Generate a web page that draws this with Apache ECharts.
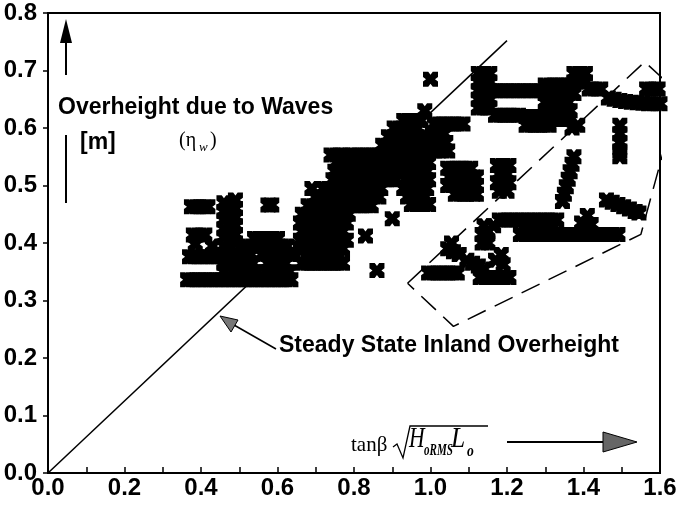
<!DOCTYPE html>
<html>
<head>
<meta charset="utf-8">
<script src="https://cdn.jsdelivr.net/npm/echarts@6/dist/echarts.min.js"></script>
<style>
  html, body { margin: 0; background: #fff; }
  #chart { width: 678px; height: 510px; }
</style>
</head>
<body>
<div id="chart"></div>
<script>
// axis ranges / ticks
const xTicks = [0, 0.2, 0.4, 0.6, 0.8, 1.0, 1.2, 1.4, 1.6];
const yTicks = [0, 0.1, 0.2, 0.3, 0.4, 0.5, 0.6, 0.7, 0.8];

// steady state inland overheight line
const steadyX = [0, 1.2];
const steadyY = [0, 0.752];

// dashed outline around the right-hand cloud
const zoneX = [0.94, 1.56, 1.65, 1.55, 1.06, 0.94];
const zoneY = [0.33, 0.715, 0.66, 0.415, 0.255, 0.33];

const groupLeft = [
  [0.375,0.463],[0.39,0.463],[0.405,0.463],[0.418,0.463],
  [0.46,0.47],[0.46,0.455],[0.46,0.44],[0.46,0.425],[0.46,0.41],[0.46,0.395],[0.46,0.38],[0.46,0.365],[0.46,0.35],
  [0.49,0.475],[0.49,0.46],[0.49,0.445],[0.49,0.43],[0.49,0.415],[0.49,0.4],[0.49,0.385],[0.49,0.37],[0.49,0.355],
  [0.575,0.466],[0.585,0.466],
  [0.38,0.414],[0.395,0.414],[0.41,0.414],[0.385,0.398],[0.43,0.395],
  [0.37,0.376],[0.385,0.376],[0.4,0.376],[0.415,0.376],[0.43,0.376],[0.445,0.376],[0.475,0.376],[0.505,0.376],
  [0.365,0.336],[0.38,0.336],[0.395,0.336],[0.41,0.336],[0.425,0.336],[0.44,0.336],[0.455,0.336],[0.47,0.336],
  [0.485,0.336],[0.5,0.336],[0.515,0.336],[0.53,0.336],[0.545,0.336],[0.56,0.336],[0.575,0.336],[0.59,0.336],
  [0.605,0.336],[0.62,0.336],[0.635,0.336],
  [0.515,0.35],[0.53,0.35],[0.545,0.35],[0.57,0.35],[0.585,0.35],[0.6,0.35],[0.615,0.35],[0.63,0.35],
  [0.52,0.365],[0.535,0.365],[0.575,0.365],[0.59,0.365],[0.605,0.365],[0.62,0.365],
  [0.515,0.38],[0.53,0.38],[0.56,0.38],[0.575,0.38],[0.59,0.38],[0.605,0.38],[0.62,0.38],[0.635,0.38],
  [0.52,0.395],[0.535,0.395],[0.55,0.395],[0.565,0.395],[0.58,0.395],[0.595,0.395],[0.61,0.395],[0.625,0.395],
  [0.54,0.408],[0.555,0.408],[0.57,0.408],[0.585,0.408],[0.6,0.408]
];

const groupMiddle = [
  [0.665,0.365],[0.68,0.365],[0.695,0.365],[0.71,0.365],[0.725,0.365],[0.74,0.365],[0.755,0.365],[0.77,0.365],
  [0.665,0.39],[0.68,0.39],[0.695,0.39],[0.71,0.39],[0.725,0.39],[0.74,0.39],[0.755,0.39],[0.77,0.39],
  [0.66,0.405],[0.675,0.405],[0.69,0.405],[0.705,0.405],[0.72,0.405],[0.735,0.405],[0.75,0.405],[0.765,0.405],[0.78,0.405],
  [0.665,0.42],[0.68,0.42],[0.695,0.42],[0.71,0.42],[0.725,0.42],[0.74,0.42],[0.755,0.42],[0.77,0.42],
  [0.66,0.435],[0.675,0.435],[0.69,0.435],[0.705,0.435],[0.72,0.435],[0.735,0.435],[0.75,0.435],[0.765,0.435],[0.78,0.435],
  [0.665,0.45],[0.68,0.45],[0.695,0.45],[0.71,0.45],[0.725,0.45],[0.74,0.45],[0.755,0.45],[0.77,0.45],[0.785,0.45],
  [0.68,0.465],[0.695,0.465],[0.71,0.465],[0.725,0.465],[0.74,0.465],[0.755,0.465],[0.77,0.465],[0.785,0.465],
  [0.8,0.465],[0.815,0.465],[0.83,0.465],[0.845,0.465],
  [0.7,0.48],[0.715,0.48],[0.73,0.48],[0.745,0.48],[0.76,0.48],[0.775,0.48],[0.79,0.48],[0.805,0.48],
  [0.82,0.48],[0.835,0.48],[0.85,0.48],[0.865,0.48],
  [0.69,0.495],[0.72,0.495],[0.735,0.495],[0.75,0.495],[0.765,0.495],[0.78,0.495],[0.795,0.495],[0.81,0.495],
  [0.825,0.495],[0.84,0.495],[0.855,0.495],[0.87,0.495],
  [0.745,0.51],[0.76,0.51],[0.775,0.51],[0.79,0.51],[0.805,0.51],[0.82,0.51],[0.835,0.51],[0.85,0.51],
  [0.865,0.51],[0.88,0.51],[0.895,0.51],[0.91,0.51],
  [0.75,0.525],[0.765,0.525],[0.78,0.525],[0.795,0.525],[0.81,0.525],[0.825,0.525],[0.84,0.525],[0.855,0.525],
  [0.87,0.525],[0.885,0.525],[0.9,0.525],[0.915,0.525],
  [0.755,0.54],[0.77,0.54],[0.785,0.54],[0.8,0.54],[0.815,0.54],[0.83,0.54],[0.845,0.54],[0.86,0.54],
  [0.875,0.54],[0.89,0.54],[0.905,0.54],[0.92,0.54],
  [0.74,0.553],[0.755,0.553],[0.77,0.553],[0.79,0.553],[0.805,0.553],[0.82,0.553],[0.835,0.553],[0.85,0.553],
  [0.865,0.553],[0.88,0.553],[0.895,0.553],[0.91,0.553],
  [0.875,0.57],[0.89,0.57],[0.905,0.57],[0.92,0.57],[0.935,0.57],[0.95,0.57],[0.965,0.57],[0.98,0.57],
  [0.89,0.585],[0.905,0.585],[0.92,0.585],[0.935,0.585],[0.95,0.585],[0.965,0.585],[0.98,0.585],
  [0.905,0.6],[0.92,0.6],[0.935,0.6],[0.95,0.6],[0.965,0.6],
  [0.93,0.613],[0.945,0.613],[0.96,0.613],[0.975,0.613],
  [0.93,0.555],[0.945,0.555],[0.96,0.555],[0.975,0.555],[0.99,0.555],
  [0.935,0.54],[0.95,0.54],[0.965,0.54],[0.98,0.54],[0.995,0.54],
  [0.93,0.525],[0.945,0.525],[0.96,0.525],[0.975,0.525],[0.99,0.525],
  [0.935,0.51],[0.95,0.51],[0.965,0.51],[0.98,0.51],[0.995,0.51],
  [0.93,0.495],[0.945,0.495],[0.96,0.495],[0.975,0.495],[0.99,0.495],
  [0.94,0.48],[0.955,0.48],[0.97,0.48],[0.985,0.48],
  [0.95,0.467],[0.965,0.467],[0.98,0.467],[0.995,0.467],
  [0.83,0.412],[0.9,0.442],[0.86,0.352]
];

const groupUpper = [
  [0.985,0.63],[1.0,0.685],
  [1.01,0.607],[1.025,0.607],[1.04,0.607],[1.055,0.607],[1.07,0.607],[1.085,0.607],
  [1.005,0.59],[1.02,0.59],[1.035,0.59],[1.005,0.575],[1.02,0.575],[1.04,0.575],[1.01,0.56],[1.03,0.56],[1.045,0.56],
  [1.045,0.53],[1.06,0.53],[1.075,0.53],[1.09,0.53],[1.105,0.53],
  [1.05,0.515],[1.065,0.515],[1.08,0.515],[1.095,0.515],[1.11,0.515],[1.12,0.515],
  [1.045,0.5],[1.06,0.5],[1.075,0.5],[1.09,0.5],[1.105,0.5],[1.12,0.5],
  [1.065,0.485],[1.08,0.485],[1.095,0.485],[1.11,0.485],[1.12,0.485],
  [1.175,0.535],[1.19,0.535],[1.205,0.535],[1.18,0.52],[1.2,0.52],
  [1.175,0.505],[1.19,0.505],[1.205,0.505],[1.18,0.49],[1.2,0.49],
  [1.125,0.695],[1.14,0.695],[1.155,0.695],[1.125,0.68],[1.14,0.68],[1.155,0.68],
  [1.125,0.665],[1.14,0.665],[1.155,0.665],[1.125,0.65],[1.14,0.65],[1.155,0.65],
  [1.125,0.635],[1.14,0.635],[1.155,0.635],
  [1.17,0.665],[1.185,0.665],[1.2,0.665],[1.215,0.665],[1.23,0.665],[1.245,0.665],[1.26,0.665],[1.275,0.665],[1.29,0.665],
  [1.17,0.622],[1.185,0.622],[1.2,0.622],[1.215,0.622],[1.23,0.622],
  [1.25,0.62],[1.265,0.62],[1.28,0.62],[1.295,0.62],[1.31,0.62],
  [1.25,0.605],[1.265,0.605],[1.28,0.605],[1.295,0.605],[1.31,0.605],
  [1.3,0.675],[1.315,0.675],[1.33,0.675],[1.345,0.675],[1.36,0.675],
  [1.3,0.66],[1.315,0.66],[1.33,0.66],[1.345,0.66],[1.36,0.66],[1.375,0.66],
  [1.3,0.645],[1.315,0.645],[1.33,0.645],[1.345,0.645],[1.36,0.645],
  [1.305,0.63],[1.32,0.63],[1.335,0.63],[1.35,0.63],[1.365,0.63],
  [1.33,0.615],[1.345,0.615],[1.36,0.615],[1.37,0.6],[1.385,0.605],
  [1.375,0.695],[1.39,0.695],[1.405,0.695],[1.375,0.68],[1.39,0.68],[1.405,0.68],
  [1.415,0.668],[1.43,0.668],[1.445,0.668]
];

const groupRight = [
  [1.465,0.652],[1.48,0.65],[1.495,0.648],[1.51,0.646],[1.525,0.645],[1.54,0.644],[1.555,0.643],
  [1.57,0.642],[1.585,0.642],[1.6,0.642],
  [1.565,0.668],[1.58,0.668],[1.595,0.668],
  [1.495,0.605],[1.495,0.59],[1.495,0.575],[1.495,0.56],[1.495,0.55],
  [1.375,0.55],[1.37,0.537],[1.365,0.524],[1.36,0.511],[1.355,0.498],[1.35,0.485],[1.345,0.472],
  [1.46,0.475],[1.475,0.471],[1.49,0.467],[1.505,0.463],[1.52,0.459],[1.535,0.455],[1.545,0.452],
  [1.235,0.415],[1.25,0.415],[1.265,0.415],[1.28,0.415],[1.295,0.415],[1.31,0.415],[1.325,0.415],[1.34,0.415],
  [1.355,0.415],[1.37,0.415],[1.385,0.415],[1.4,0.415],[1.415,0.415],[1.43,0.415],[1.445,0.415],[1.46,0.415],
  [1.475,0.415],[1.49,0.415],
  [1.395,0.435],[1.41,0.448],[1.42,0.432],
  [1.18,0.44],[1.195,0.44],[1.21,0.44],[1.225,0.44],[1.24,0.44],[1.255,0.44],[1.27,0.44],[1.285,0.44],
  [1.3,0.44],[1.315,0.44],[1.33,0.44],
  [1.135,0.4],[1.15,0.4],[1.135,0.415],[1.15,0.42],[1.14,0.43],[1.165,0.43],
  [1.17,0.37],[1.185,0.38],[1.19,0.362],
  [1.13,0.34],[1.145,0.34],[1.16,0.34],[1.175,0.34],[1.19,0.34],[1.205,0.34],
  [1.095,0.37],[1.11,0.365],[1.125,0.36],[1.14,0.355],
  [1.045,0.39],[1.06,0.385],[1.075,0.38],[1.055,0.4],
  [0.995,0.348],[1.01,0.348],[1.025,0.348],[1.04,0.348],[1.055,0.348],[1.07,0.348]
];

const chart = echarts.init(document.getElementById('chart'));

// chunky bow-tie cross, like the plotted symbol
const crossMark = 'path://M0,0L7,0L10,4L13,0L20,0L20,7L16,10L20,13L20,20L13,20L10,16L7,20L0,20L0,13L4,10L0,7Z';
const tickFont = { color: '#000', fontFamily: '"Liberation Sans", Arial', fontWeight: 'bold', fontSize: 24 };
const sans = 'bold 23px "Liberation Sans", Arial';
const serif = '"Liberation Serif", "Times New Roman"';

function scatterSeries(name, pts) {
  return {
    name, type: 'scatter', data: pts, symbol: crossMark, symbolSize: 15,
    itemStyle: { color: '#000', opacity: 1 }, z: 5, clip: false, silent: true
  };
}

const option = {
  animation: false,
  backgroundColor: '#fff',
  grid: {
    left: 48, right: 18, top: 13, bottom: 37,
    outerBoundsMode: 'none',
    show: true, borderColor: '#000', borderWidth: 2
  },
  xAxis: {
    type: 'value', min: xTicks[0], max: xTicks[xTicks.length - 1], interval: 0.2,
    axisLine: { lineStyle: { color: '#000', width: 2 } },
    axisTick: { inside: true, length: 6, lineStyle: { color: '#000', width: 1.5 } },
    minorTick: { show: true, splitNumber: 2, length: 6, lineStyle: { color: '#000', width: 1.5 } },
    splitLine: { show: false },
    axisLabel: { ...tickFont, margin: 3, formatter: v => v.toFixed(1) }
  },
  yAxis: {
    type: 'value', min: yTicks[0], max: yTicks[yTicks.length - 1], interval: 0.1,
    axisLine: { lineStyle: { color: '#000', width: 2 } },
    axisTick: { inside: false, length: 5, lineStyle: { color: '#000', width: 1.5 } },
    splitLine: { show: false },
    axisLabel: { ...tickFont, margin: 11, formatter: v => v.toFixed(1) }
  },
  series: [
    {
      name: 'steady', type: 'line', data: steadyX.map((x, i) => [x, steadyY[i]]),
      symbol: 'none', lineStyle: { color: '#000', width: 1.5 }, z: 2, silent: true
    },
    {
      name: 'zone', type: 'line', data: zoneX.map((x, i) => [x, zoneY[i]]),
      symbol: 'none', clip: false, lineStyle: { color: '#000', width: 1.5, type: [20, 10] }, z: 2, silent: true
    },
    scatterSeries('left', groupLeft),
    scatterSeries('middle', groupMiddle),
    scatterSeries('upper', groupUpper),
    scatterSeries('right', groupRight)
  ],
  graphic: [
    // y-axis title with arrow
    { type: 'line', shape: { x1: 66, y1: 75, x2: 66, y2: 38 }, style: { stroke: '#000', lineWidth: 2 } },
    { type: 'polygon', shape: { points: [[66, 19], [60, 43], [72, 43]] }, style: { fill: '#000' } },
    { type: 'text', x: 58, y: 108, style: { text: 'Overheight due to Waves', font: sans, fill: '#000', verticalAlign: 'middle' } },
    { type: 'line', shape: { x1: 66, y1: 135, x2: 66, y2: 203 }, style: { stroke: '#000', lineWidth: 2 } },
    { type: 'text', x: 80, y: 143, style: { text: '[m]', font: sans, fill: '#000', verticalAlign: 'middle' } },
    { type: 'text', x: 179, y: 141, style: { text: '(η', font: '20px ' + serif, fill: '#000', verticalAlign: 'middle' } },
    { type: 'text', x: 199, y: 148, style: { text: 'w', font: 'italic 13px ' + serif, fill: '#000', verticalAlign: 'middle' } },
    { type: 'text', x: 210, y: 141, style: { text: ')', font: '20px ' + serif, fill: '#000', verticalAlign: 'middle' } },
    // steady state label and pointer
    { type: 'text', x: 279, y: 346, style: { text: 'Steady State Inland Overheight', font: sans, fill: '#000', verticalAlign: 'middle' } },
    { type: 'line', shape: { x1: 276, y1: 349, x2: 234, y2: 325 }, style: { stroke: '#000', lineWidth: 1.5 } },
    { type: 'polygon', shape: { points: [[220, 316], [231, 332], [238, 320]] }, style: { fill: '#777', stroke: '#000', lineWidth: 1 } },
    // x-axis title with arrow
    { type: 'text', x: 351, y: 445, style: { text: 'tanβ', font: '21px ' + serif, fill: '#000', verticalAlign: 'middle' } },
    { type: 'polyline', shape: { points: [[393, 447], [397, 444], [403, 458], [410, 426], [488, 426]] }, style: { stroke: '#000', lineWidth: 1.3, fill: null } },
    { type: 'text', x: 409, y: 439, scaleX: 0.72, style: { text: 'H', font: 'italic 30px ' + serif, fill: '#000', verticalAlign: 'middle' } },
    { type: 'text', x: 424, y: 451, scaleX: 0.65, style: { text: 'oRMS', font: 'bold italic 17px ' + serif, fill: '#000', verticalAlign: 'middle' } },
    { type: 'text', x: 451, y: 439, scaleX: 0.85, style: { text: 'L', font: 'italic 30px ' + serif, fill: '#000', verticalAlign: 'middle' } },
    { type: 'text', x: 467, y: 452, scaleX: 0.8, style: { text: 'o', font: 'bold italic 17px ' + serif, fill: '#000', verticalAlign: 'middle' } },
    { type: 'line', shape: { x1: 507, y1: 442, x2: 604, y2: 442 }, style: { stroke: '#000', lineWidth: 2 } },
    { type: 'polygon', shape: { points: [[637, 442], [603, 432], [603, 452]] }, style: { fill: '#666', stroke: '#000', lineWidth: 1 } }
  ]
};

chart.setOption(option);
</script>
</body>
</html>
